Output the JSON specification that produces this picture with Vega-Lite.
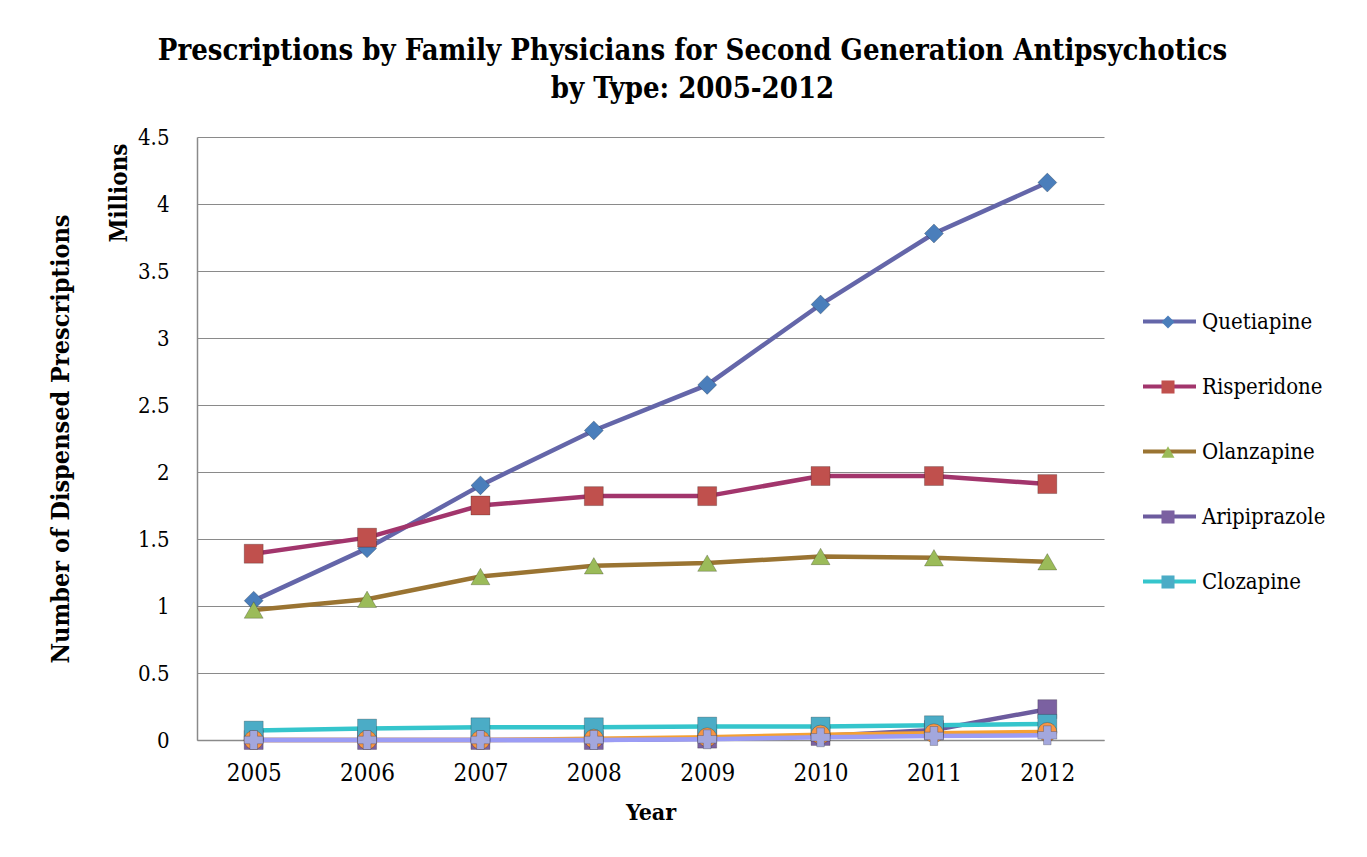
{
  "$schema": "https://vega.github.io/schema/vega-lite/v6.json",
  "width": 907,
  "height": 603,
  "autosize": {"type": "none"},
  "padding": {"left": 197, "top": 137, "right": 263, "bottom": 117},
  "background": "white",
  "config": {
    "font": "DejaVu Serif Condensed",
    "view": {"stroke": null},
    "axis": {"labelColor": "#000", "titleColor": "#000", "labelFont": "DejaVu Serif Condensed", "titleFont": "DejaVu Serif Condensed"},
    "legend": {"labelFont": "DejaVu Serif Condensed", "labelColor": "#000"}
  },
  "title": {
    "text": ["Prescriptions  by Family Physicians for Second Generation Antipsychotics", "by Type: 2005-2012"],
    "font": "DejaVu Serif Condensed",
    "fontSize": 29,
    "fontWeight": "bold",
    "color": "#000",
    "lineHeight": 38,
    "anchor": "middle",
    "frame": "group",
    "offset": 22,
    "dx": 42
  },
  "data": {
    "values": [
      {"drug": "Quetiapine", "year": "2005", "value": 1.04},
      {"drug": "Quetiapine", "year": "2006", "value": 1.43},
      {"drug": "Quetiapine", "year": "2007", "value": 1.90},
      {"drug": "Quetiapine", "year": "2008", "value": 2.31},
      {"drug": "Quetiapine", "year": "2009", "value": 2.65},
      {"drug": "Quetiapine", "year": "2010", "value": 3.25},
      {"drug": "Quetiapine", "year": "2011", "value": 3.78},
      {"drug": "Quetiapine", "year": "2012", "value": 4.16},
      {"drug": "Risperidone", "year": "2005", "value": 1.39},
      {"drug": "Risperidone", "year": "2006", "value": 1.51},
      {"drug": "Risperidone", "year": "2007", "value": 1.75},
      {"drug": "Risperidone", "year": "2008", "value": 1.82},
      {"drug": "Risperidone", "year": "2009", "value": 1.82},
      {"drug": "Risperidone", "year": "2010", "value": 1.97},
      {"drug": "Risperidone", "year": "2011", "value": 1.97},
      {"drug": "Risperidone", "year": "2012", "value": 1.91},
      {"drug": "Olanzapine", "year": "2005", "value": 0.97},
      {"drug": "Olanzapine", "year": "2006", "value": 1.05},
      {"drug": "Olanzapine", "year": "2007", "value": 1.22},
      {"drug": "Olanzapine", "year": "2008", "value": 1.30},
      {"drug": "Olanzapine", "year": "2009", "value": 1.32},
      {"drug": "Olanzapine", "year": "2010", "value": 1.37},
      {"drug": "Olanzapine", "year": "2011", "value": 1.36},
      {"drug": "Olanzapine", "year": "2012", "value": 1.33},
      {"drug": "Aripiprazole", "year": "2005", "value": 0.0},
      {"drug": "Aripiprazole", "year": "2006", "value": 0.0},
      {"drug": "Aripiprazole", "year": "2007", "value": 0.0},
      {"drug": "Aripiprazole", "year": "2008", "value": 0.0},
      {"drug": "Aripiprazole", "year": "2009", "value": 0.01},
      {"drug": "Aripiprazole", "year": "2010", "value": 0.03},
      {"drug": "Aripiprazole", "year": "2011", "value": 0.075},
      {"drug": "Aripiprazole", "year": "2012", "value": 0.23},
      {"drug": "Clozapine", "year": "2005", "value": 0.07},
      {"drug": "Clozapine", "year": "2006", "value": 0.085},
      {"drug": "Clozapine", "year": "2007", "value": 0.095},
      {"drug": "Clozapine", "year": "2008", "value": 0.095},
      {"drug": "Clozapine", "year": "2009", "value": 0.10},
      {"drug": "Clozapine", "year": "2010", "value": 0.10},
      {"drug": "Clozapine", "year": "2011", "value": 0.11},
      {"drug": "Clozapine", "year": "2012", "value": 0.12},
      {"drug": "Ziprasidone", "year": "2005", "value": 0.0},
      {"drug": "Ziprasidone", "year": "2006", "value": 0.0},
      {"drug": "Ziprasidone", "year": "2007", "value": 0.0},
      {"drug": "Ziprasidone", "year": "2008", "value": 0.01},
      {"drug": "Ziprasidone", "year": "2009", "value": 0.02},
      {"drug": "Ziprasidone", "year": "2010", "value": 0.04},
      {"drug": "Ziprasidone", "year": "2011", "value": 0.05},
      {"drug": "Ziprasidone", "year": "2012", "value": 0.06},
      {"drug": "Paliperidone", "year": "2005", "value": 0.0},
      {"drug": "Paliperidone", "year": "2006", "value": 0.0},
      {"drug": "Paliperidone", "year": "2007", "value": 0.0},
      {"drug": "Paliperidone", "year": "2008", "value": 0.0},
      {"drug": "Paliperidone", "year": "2009", "value": 0.005},
      {"drug": "Paliperidone", "year": "2010", "value": 0.02},
      {"drug": "Paliperidone", "year": "2011", "value": 0.03},
      {"drug": "Paliperidone", "year": "2012", "value": 0.035}
    ]
  },
  "encoding": {
    "x": {
      "field": "year",
      "type": "ordinal",
      "sort": null,
      "scale": {"type": "point", "padding": 0.5},
      "axis": {
        "title": "Year",
        "labelAngle": 0,
        "ticks": false,
        "grid": false,
        "domainColor": "#8a8a8a",
        "domainWidth": 1.5,
        "labelFontSize": 24,
        "labelPadding": 21,
        "titleFontSize": 23,
        "titleFontWeight": "bold",
        "titlePadding": 16
      }
    }
  },
  "layer": [
    {
      "mark": {"type": "line", "strokeWidth": 4.5},
      "encoding": {
        "y": {
          "field": "value",
          "type": "quantitative",
          "scale": {"domain": [0, 4.5], "nice": false, "zero": true},
          "axis": {
            "orient": "left",
            "values": [0, 0.5, 1, 1.5, 2, 2.5, 3, 3.5, 4, 4.5],
            "format": "~g",
            "title": "Millions",
            "titleAnchor": "end",
            "titleFontSize": 24,
            "titleFontWeight": "bold",
            "titlePadding": 6,
            "titleY": 6,
            "grid": true,
            "gridColor": "#8a8a8a",
            "gridWidth": 1.2,
            "domainColor": "#8a8a8a",
            "domainWidth": 1.5,
            "ticks": false,
            "labelFontSize": 22,
            "labelPadding": 28
          }
        },
        "stroke": {
          "field": "drug",
          "type": "nominal",
          "scale": {
            "domain": ["Quetiapine", "Risperidone", "Olanzapine", "Aripiprazole", "Clozapine", "Ziprasidone", "Paliperidone"],
            "range": ["#6466a9", "#a2356c", "#9a7432", "#6c5b9e", "#35c5cc", "#f5a033", "#9b9cf5"]
          },
          "legend": {
            "values": ["Quetiapine", "Risperidone", "Olanzapine", "Aripiprazole", "Clozapine"],
            "orient": "none",
            "legendX": 944,
            "legendY": 156,
            "title": null,
            "symbolType": "stroke",
            "symbolSize": 2809,
            "symbolStrokeWidth": 4,
            "labelFontSize": 22,
            "labelOffset": 4,
            "rowPadding": 25
          }
        }
      }
    },
    {
      "mark": {"type": "point", "filled": true, "opacity": 1, "size": 360, "stroke": "#000000", "strokeOpacity": 0.22, "strokeWidth": 1},
      "encoding": {
        "y": {
          "field": "value",
          "type": "quantitative",
          "axis": {
            "orient": "left",
            "title": "Number of Dispensed Prescriptions",
            "titleFontSize": 25,
            "titleFontWeight": "bold",
            "titlePadding": 124,
            "labels": false,
            "ticks": false,
            "domain": false,
            "grid": false
          }
        },
        "fill": {
          "field": "drug",
          "type": "nominal",
          "scale": {
            "domain": ["Quetiapine", "Risperidone", "Olanzapine", "Aripiprazole", "Clozapine", "Paliperidone", "Ziprasidone"],
            "range": ["#4a7ebb", "#c0504d", "#9bbb59", "#7b61a1", "#4bacc6", "#a3a7dd", "#f79646"]
          },
          "legend": {
            "values": ["Quetiapine", "Risperidone", "Olanzapine", "Aripiprazole", "Clozapine"],
            "orient": "none",
            "legendX": 960,
            "legendY": 174,
            "title": null,
            "symbolSize": 170,
            "symbolStrokeWidth": 0,
            "labelFontSize": 22,
            "labelOpacity": 0,
            "labelExpr": "''",
            "rowPadding": 43
          }
        },
        "shape": {
          "field": "drug",
          "type": "nominal",
          "scale": {
            "domain": ["Quetiapine", "Risperidone", "Olanzapine", "Aripiprazole", "Clozapine", "Paliperidone", "Ziprasidone"],
            "range": ["diamond", "square", "triangle-up", "square", "square", "cross", "circle"]
          },
          "legend": {
            "values": ["Quetiapine", "Risperidone", "Olanzapine", "Aripiprazole", "Clozapine"],
            "orient": "none",
            "legendX": 960,
            "legendY": 174,
            "title": null,
            "symbolSize": 170,
            "symbolStrokeWidth": 0,
            "labelFontSize": 22,
            "labelOpacity": 0,
            "labelExpr": "''",
            "rowPadding": 43
          }
        }
      }
    }
  ],
  "resolve": {"axis": {"y": "independent"}}
}
